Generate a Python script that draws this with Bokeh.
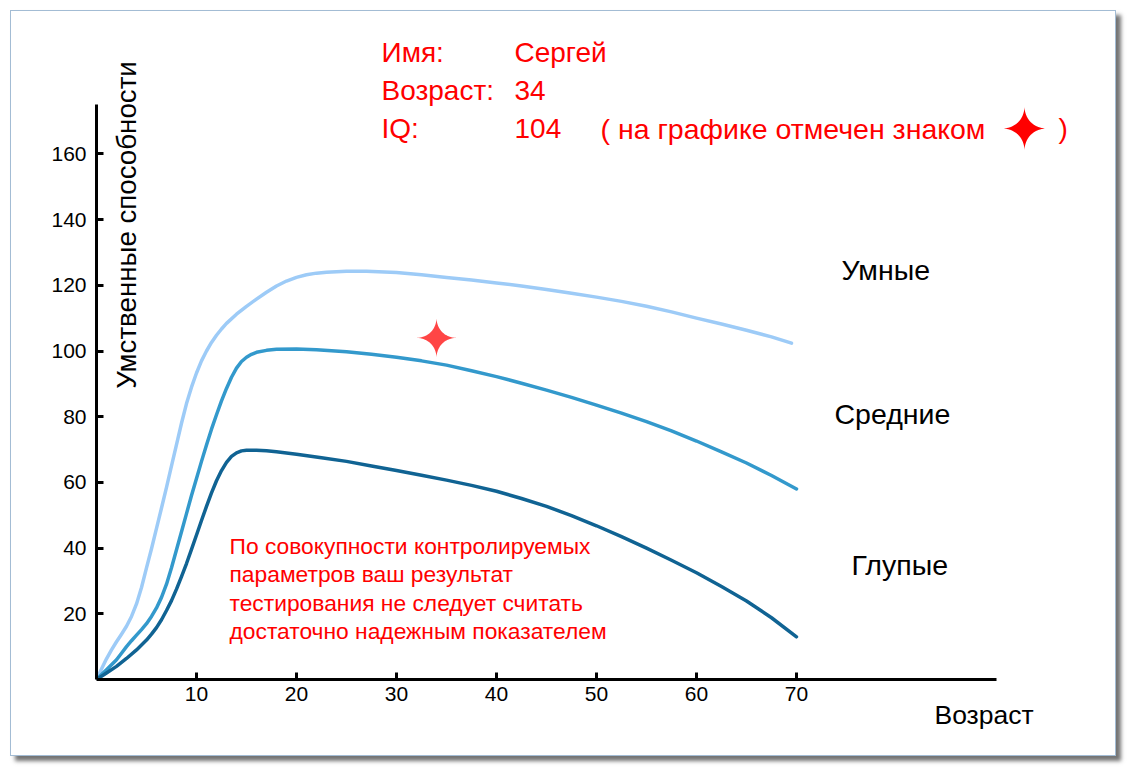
import numpy as np
from bokeh.plotting import figure
from bokeh.models import Range1d, FixedTicker, Label, Title
from bokeh.embed import file_html
from bokeh.resources import INLINE

# ---------------- data ----------------
ages_smart = [0, 0.5, 1, 1.5, 2, 2.5, 3, 3.5, 4, 4.5, 5, 5.5, 6, 6.5, 7, 7.5, 8, 8.5, 9, 9.5,
              10, 10.5, 11, 11.5, 12, 12.5, 13, 14, 15, 16, 17, 18, 19, 20, 21, 22, 23, 25, 27,
              30, 32.5, 35, 37.5, 40, 42.5, 45, 47.5, 50, 52.5, 55, 57.5, 60, 62.5, 65, 67.5, 69.5]
iq_smart = [0, 3.2, 6.3, 9, 11.5, 13.8, 16.2, 19.2, 23, 28, 34, 39.8, 46, 52.2, 58.5, 65, 71.5, 78, 84, 89,
            93.3, 97, 100, 102.6, 104.8, 106.7, 108.4, 111.2, 113.6, 115.8, 117.9, 119.8, 121.3, 122.4, 123.2, 123.7, 124, 124.3, 124.3,
            123.9, 123.2, 122.4, 121.6, 120.7, 119.8, 118.7, 117.6, 116.4, 115.1, 113.6, 111.9, 110, 108.2, 106.3, 104.3, 102.4]

ages_mid = [0, 0.5, 1, 1.5, 2, 2.5, 3, 3.5, 4, 4.5, 5, 5.5, 6, 6.5, 7, 7.5, 8, 8.5, 9, 9.5,
            10, 10.5, 11, 11.5, 12, 12.5, 13, 13.5, 14, 14.5, 15, 15.5, 16, 17, 18, 20, 22, 25, 27.5,
            30, 32.5, 35, 37.5, 40, 42.5, 45, 47.5, 50, 52.5, 55, 57.5, 60, 62.5, 65, 67.5, 70]
iq_mid = [0, 1.5, 3, 4.5, 6, 8, 10, 11.8, 13.5, 15.2, 17, 19.2, 21.8, 25, 29, 34, 39.5, 45, 50.5, 56,
          61.2, 66.4, 71.4, 76.2, 80.6, 84.8, 88.6, 92, 94.8, 96.8, 98.1, 99, 99.6, 100.2, 100.5, 100.6, 100.4, 99.8, 99,
          98.1, 97, 95.7, 94, 92.2, 90.2, 88.1, 85.9, 83.5, 81.1, 78.5, 75.7, 72.6, 69.3, 65.9, 62.1, 58]

ages_dull = [0, 1, 2, 3, 4, 5, 5.5, 6, 6.5, 7, 7.5, 8, 8.5, 9, 9.5, 10, 10.5, 11, 11.5, 12, 12.5, 13, 13.5,
             14, 14.5, 15, 16, 17, 18, 20, 22.5, 25, 27.5, 30, 32.5, 35, 37.5, 40, 42.5, 45, 47.5, 50,
             52.5, 55, 57.5, 60, 62.5, 65, 67.5, 70]
iq_dull = [0, 2, 4, 6.4, 9, 12, 13.8, 15.8, 18.2, 21, 24, 27.5, 31.3, 35.3, 39.6, 44, 48.4, 52.7, 56.8, 60.5, 63.6, 66.1, 67.9,
           69, 69.6, 69.8, 69.8, 69.6, 69.3, 68.6, 67.5, 66.4, 65, 63.6, 62.2, 60.7, 59.1, 57.3, 55.1, 52.7, 49.9, 46.8,
           43.5, 40, 36.3, 32.5, 28.3, 23.9, 18.8, 13]

x_ticks = [10, 20, 30, 40, 50, 60, 70]
y_ticks = [20, 40, 60, 80, 100, 120, 140, 160]

series_names = ["Умные", "Средние", "Глупые"]
person_age = 34
person_iq = 104
info_keys = ["Имя:", "Возраст:", "IQ:"]
info_vals = ["Сергей", "34", "104"]
note_lines = ["По совокупности контролируемых",
              "параметров ваш результат",
              "тестирования не следует считать",
              "достаточно надежным показателем"]

# ---------------- geometry helpers (page pixels -> data) ----------------
X0, Y0 = 96.0, 679.0      # page position of data origin
SX, SY = 10.0, 3.285      # pixels per data unit
OFF = 11                  # figure offset on page (margin + border)
W, H = 1106, 746

def dx(px):
    return (px - X0) / SX

def dy(py):
    return (Y0 - py) / SY

FONT = "Liberation Sans"

p = figure(width=W, height=H, output_backend="svg", toolbar_location=None,
           x_range=Range1d(0, (W - (X0 - OFF)) / SX),
           y_range=Range1d(0, (Y0 - OFF) / SY),
           min_border_left=int(X0 - OFF), min_border_bottom=int(H - (Y0 - OFF)),
           min_border_top=0, min_border_right=0)
p.styles = {"margin-left": "10px", "margin-top": "10px",
            "border": "1px solid #a3bcd4",
            "box-shadow": "5px 5px 4px rgba(0,0,0,0.55)"}

p.background_fill_color = "white"
p.border_fill_color = "white"
p.outline_line_color = None
p.xgrid.visible = False
p.ygrid.visible = False

for ax, ticks, bnds in ((p.xaxis[0], x_ticks, (0, 90)), (p.yaxis[0], y_ticks, (0, 175))):
    ax.ticker = FixedTicker(ticks=ticks)
    ax.bounds = bnds
    ax.axis_line_width = 3
    ax.axis_line_color = "black"
    ax.major_tick_line_width = 3
    ax.major_tick_line_color = "black"
    ax.major_tick_in = 7
    ax.major_tick_out = 0
    ax.minor_tick_line_color = None
    ax.major_label_text_font = FONT
    ax.major_label_text_font_size = "21px"
    ax.major_label_text_color = "black"
p.yaxis.major_label_standoff = 10
p.xaxis.major_label_standoff = 7

# x axis title, placed below the axis at the right
xt = Title(text="Возраст", align="left", offset=838, standoff=0,
           text_font=FONT, text_font_size="26.5px", text_font_style="normal",
           text_color="black")
try:
    xt.standoff = -11
except Exception:
    pass
p.add_layout(xt, "below")

# curves
p.line(ages_smart, iq_smart, line_color="#9dcbf7", line_width=3.5, line_cap="round", line_join="round")
p.line(ages_mid, iq_mid, line_color="#3399cc", line_width=3.5, line_cap="round", line_join="round")
p.line(ages_dull, iq_dull, line_color="#106393", line_width=3.5, line_cap="round", line_join="round")

# four-point sparkle
def sparkle(cx, cy, r_px, pw=3.6, n=400):
    t = np.linspace(0, 2 * np.pi, n)
    c, s = np.cos(t), np.sin(t)
    xs = cx + (np.sign(c) * np.abs(c) ** pw) * r_px / SX
    ys = cy + (np.sign(s) * np.abs(s) ** pw) * r_px / SY
    return list(xs), list(ys)

sx_, sy_ = sparkle(person_age, person_iq, 20)
p.patch(sx_, sy_, fill_color="#ff4545", line_color=None)

def label(txt, px, py, size, color="black", align="left", baseline="alphabetic", angle=0):
    p.add_layout(Label(x=dx(px), y=dy(py), text=txt, text_font=FONT,
                       text_font_size=size, text_color=color, text_align=align,
                       text_baseline=baseline, angle=angle))

# y axis title (inside plot, rotated)
label("Умственные способности", 126, 224.5, "27.7px", align="center", angle=np.pi / 2)

# series labels
label(series_names[0], 841, 269, "28.5px")
label(series_names[1], 834, 413, "28.5px")
label(series_names[2], 851, 564, "28.5px")

# header info
for i, (k, v) in enumerate(zip(info_keys, info_vals)):
    base = [52, 90, 128][i]
    label(k, 381, base, "28px", color="#ff0000")
    label(v, 514, base, "28px", color="#ff0000")
label("( на графике отмечен знаком", 600, 128, "28.5px", color="#ff0000")
label(")", 1058, 128, "28px", color="#ff0000")
hx, hy = sparkle(dx(1024), dy(128), 22)
p.patch(hx, hy, fill_color="#ff0000", line_color=None)

# note
for i, ln in enumerate(note_lines):
    label(ln, 229, 545 + 28.5 * i, "22.8px", color="#ff0000")

open("out.html", "w").write(file_html(p, INLINE))
